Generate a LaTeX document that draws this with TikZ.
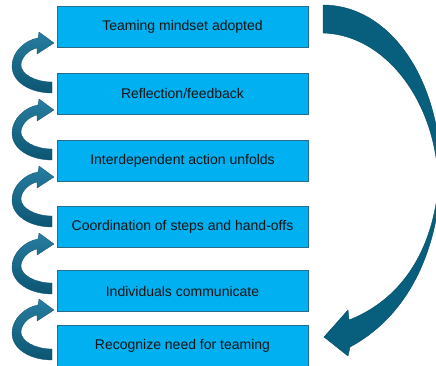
\documentclass[tikz,border=0pt]{standalone}
\usepackage{fontspec}
\setmainfont{Liberation Sans}
\definecolor{boxfill}{RGB}{0,176,240}
\definecolor{boxline}{RGB}{40,110,140}
\definecolor{arrowdark}{RGB}{12,85,115}
\definecolor{arrowlight}{RGB}{40,125,160}
\definecolor{bigarrow}{RGB}{8,95,125}
\definecolor{txt}{RGB}{20,20,20}
\tikzset{
  stagebox/.style={draw=boxline, line width=0.8pt, fill=boxfill, minimum width=251pt,
    minimum height=41pt, inner sep=0pt, font=\fontsize{14}{16}\selectfont, text=txt},
  loopshape/.style={top color=arrowlight, bottom color=arrowdark, draw=arrowdark, line width=0.3pt},
  bigshape/.style={fill=bigarrow, draw=bigarrow!80!black, line width=0.4pt}
}
\newcommand{\looparrow}[1]{%
  \begin{scope}[yshift=-#1pt]
    \path[loopshape] (52,93) .. controls (30,93) and (12,82) .. (12,66)
      .. controls (12,52) and (25,40) .. (38,38) -- (39,32) -- (54,43) -- (37,54) -- (37,48)
      .. controls (28,50) and (21,58) .. (21,65)
      .. controls (21,74) and (35,82) .. (52,82) -- cycle;
  \end{scope}}
\begin{document}
\begin{tikzpicture}[x=1pt,y=-1pt]
\useasboundingbox (0,0) rectangle (436,365);
\begin{scope}
\clip (0,0) rectangle (436,365);
% stage boxes
\node[stagebox] (b1) at (182.5,26.5) {Teaming mindset adopted};
\node[stagebox] (b2) at (182.5,93.5) {Reflection/feedback};
\node[stagebox] (b3) at (182.5,160.5) {Interdependent action unfolds};
\node[stagebox] (b4) at (182.5,226.5) {Coordination of steps and hand-offs};
\node[stagebox] (b5) at (182.5,291) {Individuals communicate};
\node[stagebox] (b6) at (182.5,346) {Recognize need for teaming};
% small curved arrows on the left
\looparrow{0}
\looparrow{67}
\looparrow{134}
\looparrow{201}
\looparrow{267}
% big curved arrow on the right
\path[bigshape] (323,5) .. controls (380,5) and (430,60) .. (440,150)
  .. controls (445,210) and (428,305) .. (350,347)
  -- (348,356) -- (324,337) -- (348,310) -- (349,320)
  .. controls (395,302) and (430,260) .. (438,190)
  .. controls (440,110) and (390,35) .. (323,33) -- cycle;
\end{scope}
\end{tikzpicture}
\end{document}
